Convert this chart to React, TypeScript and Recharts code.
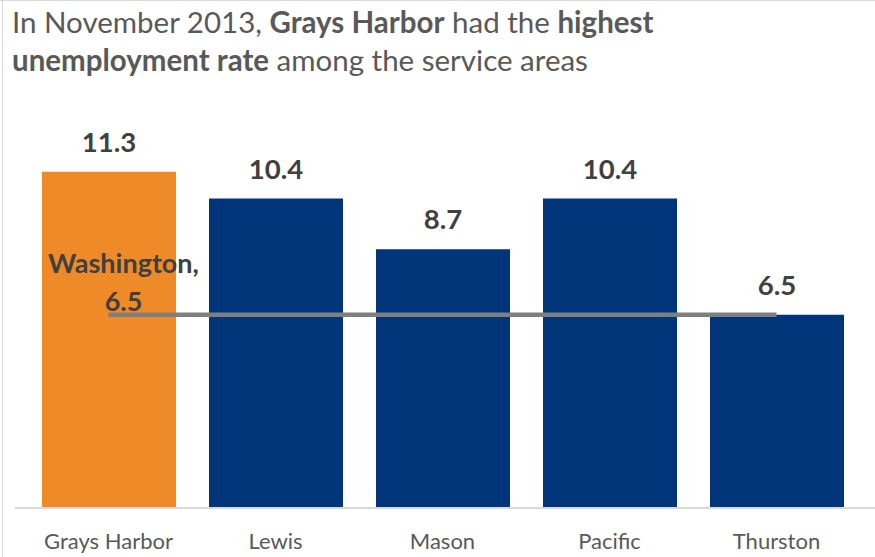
import React from "react";
import { ComposedChart, Bar, Line, XAxis, YAxis, Cell, LabelList } from "recharts";

const categories = ["Grays Harbor", "Lewis", "Mason", "Pacific", "Thurston"];
const rates = [11.3, 10.4, 8.7, 10.4, 6.5];
const washington = [6.5, 6.5, 6.5, 6.5, 6.5];
const barColors = ["#EE8A27", "#00357A", "#00357A", "#00357A", "#00357A"];

const data = categories.map((c, i) => ({ name: c, rate: rates[i], wa: washington[i] }));

const FONT = "Lato, 'Open Sans', sans-serif";

const BarLabel = (props: any) => {
  const { x, y, width, value } = props;
  return (
    <text x={x + width / 2} y={y - 20} textAnchor="middle" fontFamily={FONT} fontWeight={700} fontSize={27.5} fill="#404040">
      {Number(value).toFixed(1)}
    </text>
  );
};

const WaLabel = (props: any) => {
  const { x, y, index, value } = props;
  if (index !== 0) return null;
  return (
    <text textAnchor="middle" fontFamily={FONT} fontWeight={700} fontSize={27} fill="#404040">
      <tspan x={x + 15} y={y - 42}>Washington,</tspan>
      <tspan x={x + 15} y={y - 4}>{Number(value).toFixed(1)}</tspan>
    </text>
  );
};

export default function App() {
  return (
    <div style={{ position: "relative", width: 875, height: 557, background: "#fff", overflow: "hidden" }}>
      <style>{`body{margin:0}`}</style>
      <div style={{ position: "absolute", left: 2, top: 0, width: 1, height: 557, background: "#d9d9d9" }} />
      <div style={{ position: "absolute", left: 0, top: 0, width: 875, height: 1, background: "#d9d9d9" }} />
      <div
        style={{
          position: "absolute",
          left: 12,
          top: 3,
          fontFamily: FONT,
          fontSize: 29.5,
          lineHeight: "38px",
          color: "#595959",
          whiteSpace: "nowrap",
        }}
      >
        In November 2013, <b>Grays Harbor</b> had the <b>highest</b>
        <br />
        <b>unemployment rate</b> among the service areas
      </div>
      <div style={{ position: "absolute", left: 0, top: 0 }}>
        <ComposedChart
          width={875}
          height={557}
          data={data}
          margin={{ top: 151, right: 0, bottom: 9, left: 15 }}
          barCategoryGap="20%"
        >
          <XAxis
            dataKey="name"
            tickLine={false}
            tickSize={0}
            tickMargin={25}
            height={40}
            padding={{ left: 10, right: 15 }}
            axisLine={{ stroke: "#d9d9d9", strokeWidth: 2 }}
            tick={{ fill: "#595959", fontSize: 22, fontFamily: FONT }}
            interval={0}
          />
          <YAxis hide domain={[0, 12]} />
          <Bar dataKey="rate" barSize={134} isAnimationActive={false}>
            {data.map((d, i) => (
              <Cell key={d.name} fill={barColors[i]} />
            ))}
            <LabelList dataKey="rate" content={BarLabel} />
          </Bar>
          <Line
            dataKey="wa"
            stroke="#7F7F7F"
            strokeWidth={4.5}
            dot={false}
            isAnimationActive={false}
          >
            <LabelList dataKey="wa" content={WaLabel} />
          </Line>
        </ComposedChart>
      </div>
    </div>
  );
}
